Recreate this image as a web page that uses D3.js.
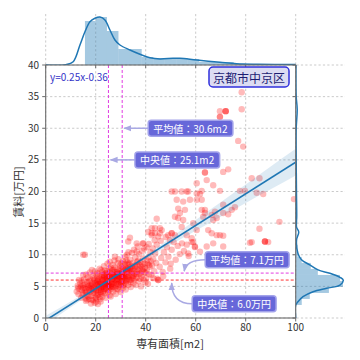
<!DOCTYPE html>
<html><head><meta charset="utf-8">
<script src="https://cdn.jsdelivr.net/npm/d3@7"></script>
<style>
body{margin:0;background:#fff}
svg{display:block}
text{font-family:"Noto Sans CJK JP","DejaVu Sans",sans-serif}
</style>
</head><body>
<svg id="c" width="360" height="360"></svg>
<script>
// ---------------- data ----------------
const xTicks = [0, 20, 40, 60, 80, 100];
const yTicks = [0, 5, 10, 15, 20, 25, 30, 35, 40];
const areaLabel = "専有面積[m2]";
const rentLabel = "賃料[万円]";
const districtName = "京都市中京区";
const slope = 0.25, intercept = -0.36;
const meanArea = 30.6, medianArea = 25.1, meanRent = 7.1, medianRent = 6.0;

// confidence band half-width of regression
const bandX = [0, 10, 20, 30, 40, 50, 60, 70, 80, 90, 100];
const bandHalf = [0.7, 0.45, 0.25, 0.18, 0.3, 0.55, 0.85, 1.15, 1.45, 1.8, 2.1];

// top marginal histogram (area)
const areaBinEdges = [15.7,20.0,24.5,29.1,33.7,38.4,43.0,47.6,52.2,56.8,61.4,66.0,70.6,75.2,79.8,84.4,89.0,93.6,98.2];
const areaBinCounts = [176,192,136,64,64,32,28,24,28,24,12,12,12,6,4,4,3,2];
// top KDE [area, density-as-count]
const areaKde = [[0,0],[8,1],[11,13],[13.7,80],[15.7,133],[17.7,173],[19.7,187],[21.7,192],[23.7,180],[25.7,140],[27.7,100],[29.7,80],[33.7,60],[37.7,43],[41.7,29],[45.7,24],[50.9,27],[53.7,27],[60.4,20],[69.7,11],[76.4,5],[85,3],[100,2]];

// right marginal histogram (rent)
const rentBinStart = 2.06, rentBinWidth = 0.95;
const rentBinCounts = [24,56,132,188,176,88,60,24,8,8,6,4,4,6,4,4,3,3,2,3,2,1,1,1,1,1,1,0,1,1,1,0,1,1,0,1];
// right KDE [rent, density-as-count]
const rentKde = [[0,0],[2.06,0],[2.58,9],[3.37,29],[4.16,69],[4.7,123],[5.2,176],[6.0,189],[6.43,176],[7.07,136],[7.6,89],[8.4,56],[9.2,23],[10.2,9],[12.3,3],[13.6,12],[14.4,3],[16,4],[20,3],[25,2],[30,2],[33,6],[35,2],[40,1]];

// listings [area m2, rent 万円]
const listings = [
[12.4,4.2],[12.8,5.1],[13.1,3.8],[13.5,4.6],[13.8,5.5],[13.3,6.0],[12.9,4.8],
[14.2,3.2],[14.5,4.4],[14.8,5.2],[15.1,3.9],[15.3,6.1],[15.6,4.8],[14.4,5.9],[15.9,3.1],[15.0,6.8],[14.7,3.7],
[16.1,2.7],[16.3,4.0],[16.5,5.3],[16.8,6.4],[17.0,3.4],[17.2,4.7],[17.5,5.8],[17.7,7.2],[16.6,2.9],[17.9,4.2],[16.9,5.0],[17.4,3.0],[16.2,6.9],[17.8,6.1],
[18.1,2.3],[18.3,3.5],[18.4,4.6],[18.6,5.5],[18.8,6.6],[19.0,2.8],[19.2,4.0],[19.4,5.0],[19.5,6.0],[19.7,7.4],[19.9,3.3],[18.5,7.6],[19.1,4.4],[19.8,5.6],[18.2,5.1],[19.6,2.4],
[20.1,3.1],[20.2,4.3],[20.4,5.2],[20.5,6.2],[20.7,7.1],[20.9,2.2],[21.0,3.7],[21.2,4.8],[21.3,5.7],[21.5,6.6],[21.6,7.8],[21.8,3.0],[21.9,4.1],[20.6,5.8],[21.4,5.0],[20.3,6.9],[21.7,5.4],[20.8,4.0],
[22.0,2.6],[22.1,4.5],[22.3,5.5],[22.4,6.4],[22.6,7.3],[22.7,3.4],[22.9,4.9],[23.0,5.9],[23.2,6.8],[23.3,8.2],[23.5,3.9],[23.6,5.2],[23.8,6.1],[23.9,7.0],[22.5,5.0],[23.1,4.3],[23.7,5.6],[22.8,6.0],[22.2,7.6],[23.4,6.5],
[24.0,3.2],[24.1,4.7],[24.3,5.6],[24.4,6.5],[24.6,7.4],[24.7,8.6],[24.9,4.1],[25.0,5.1],[25.2,6.0],[25.3,6.9],[25.5,7.8],[25.6,3.6],[25.8,4.9],[25.9,5.8],[24.5,6.2],[25.1,5.5],[25.7,6.6],[24.8,5.3],[25.4,4.4],[24.2,7.1],[25.6,8.9],
[26.0,3.4],[26.2,4.6],[26.3,5.7],[26.5,6.6],[26.6,7.5],[26.8,8.4],[27.0,4.2],[27.1,5.3],[27.3,6.2],[27.4,7.0],[27.6,8.0],[27.8,4.8],[27.9,5.9],[26.4,6.1],[27.2,6.7],[26.9,5.0],[27.7,6.5],[26.1,7.9],[27.5,9.1],
[28.0,3.8],[28.2,5.1],[28.3,6.0],[28.5,6.9],[28.7,7.7],[28.9,8.7],[29.0,4.5],[29.2,5.6],[29.3,6.5],[29.5,7.4],[29.7,8.3],[29.9,5.2],[28.6,6.4],[29.4,6.0],[28.4,7.3],[29.8,7.0],[28.8,5.4],[29.1,9.3],
[30.0,4.1],[30.2,5.4],[30.4,6.3],[30.5,7.2],[30.7,8.1],[30.9,9.0],[31.0,4.8],[31.2,5.9],[31.4,6.8],[31.5,7.6],[31.7,8.6],[31.9,5.5],[30.6,6.7],[31.3,7.1],[30.3,8.6],[31.8,9.7],[30.8,5.1],[31.6,6.3],
[32.0,4.5],[32.2,5.8],[32.4,6.6],[32.6,7.5],[32.8,8.4],[33.0,5.2],[33.2,6.2],[33.4,7.1],[33.6,8.0],[33.8,9.2],[32.5,10.0],[33.5,6.7],[32.9,7.8],[32.3,9.1],[33.9,5.7],[33.1,10.4],
[34.0,4.9],[34.2,6.0],[34.4,7.0],[34.6,7.8],[34.8,8.7],[35.0,5.5],[35.2,6.6],[35.4,7.4],[35.6,8.3],[35.8,9.6],[34.5,10.3],[35.3,10.8],[34.9,6.3],[35.7,7.0],
[36.0,5.2],[36.3,6.4],[36.5,7.3],[36.7,8.2],[37.0,9.1],[37.2,5.8],[37.4,6.9],[37.6,7.8],[37.9,8.8],[36.4,10.5],[37.3,10.1],[36.8,11.3],[37.8,6.2],
[38.1,5.0],[38.3,6.6],[38.5,7.5],[38.8,8.5],[39.0,9.4],[39.2,6.1],[39.5,7.2],[39.7,8.0],[38.6,10.6],[39.4,11.0],[39.9,5.6],[38.9,11.8],
[40.2,6.3],[40.5,7.6],[40.8,8.6],[41.1,9.6],[41.3,6.9],[41.6,8.1],[41.9,10.4],[40.4,11.2],[41.2,11.7],[40.9,5.4],
[42.3,6.8],[42.6,8.3],[43.0,9.3],[43.4,7.4],[43.8,10.2],[44.2,8.7],[44.6,6.2],[45.0,6.0],[45.0,6.0],[43.1,6.3],[42.8,11.0],[44.4,11.6],[43.6,12.3],
[45.6,8.1],[46.2,9.5],[46.8,7.3],[47.3,10.4],[47.9,8.8],[48.5,11.2],[49.1,9.7],[49.8,7.8],[50.4,10.8],[51.2,12.0],[52.0,9.2],[52.8,11.4],[53.6,10.1],[54.5,11.8],[55.3,10.6],[56.4,11.6],[57.2,9.8],[58.4,12.0],[59.0,12.0],[46.0,12.2],[48.0,12.8],[47.0,6.6],[50.0,8.6],
[17.3,4.4],[17.6,5.2],[18.0,4.8],[18.7,3.9],[18.9,5.3],[19.3,6.3],[19.5,4.7],[20.0,5.5],[20.3,4.6],[20.6,3.6],[20.9,6.0],[21.1,5.3],[21.3,4.4],[21.6,6.2],[21.9,5.6],[22.1,3.9],[22.3,4.8],[22.5,6.8],[22.7,5.3],[22.9,4.1],
[23.1,6.3],[23.3,5.0],[23.5,4.6],[23.7,7.5],[23.9,5.4],[24.1,6.0],[24.3,4.5],[24.5,5.5],[24.7,6.8],[24.9,5.9],[25.1,4.8],[25.3,6.4],[25.5,5.2],[25.7,7.2],[25.9,6.3],[26.1,5.1],[26.3,6.9],[26.5,5.4],[26.7,4.9],[26.9,6.3],
[27.1,7.6],[27.3,5.6],[27.5,6.0],[27.7,7.3],[27.9,6.8],[28.1,5.6],[28.3,6.6],[28.5,4.6],[28.7,6.2],[28.9,7.1],[29.1,6.8],[29.3,5.0],[29.5,6.3],[29.7,5.8],[29.9,7.8],[30.1,6.0],[30.3,7.0],[30.5,5.7],[30.7,6.5],[30.9,7.7],
[31.1,6.4],[31.3,5.3],[31.5,7.0],[31.7,6.0],[31.9,8.0],[32.1,6.9],[32.3,7.8],[32.5,6.1],[32.7,8.8],[32.9,6.5],[33.1,7.4],[33.3,8.6],[33.5,6.0],[33.7,7.6],[34.1,7.4],[34.3,8.2],[34.7,6.6],[35.1,7.9],[35.5,6.1],[35.9,8.1],
[36.2,7.0],[36.6,8.9],[37.1,7.5],[37.5,8.4],[38.0,7.1],[38.4,8.1],[39.1,7.7],[39.6,8.6],[40.0,7.2],[40.6,9.1],[41.4,8.4],[42.0,9.0],[16.0,4.5],[16.4,3.6],[16.7,5.7],[15.4,5.3],[15.8,4.2],[14.9,4.7],[14.1,5.0],[18.4,2.9],[20.2,2.6],[21.5,3.3],
[15.7,10.0],[15.0,10.0],[27.7,9.7],[33.7,12.7],[33.0,12.1],[36.4,11.8],[39.0,11.8],[41.0,13.6],[42.4,13.1],[42.4,13.4],[42.4,14.2],[45.7,13.4],[45.7,14.2],[45.0,12.9],[46.4,13.9],[49.0,13.1],[43.7,14.2],[43.7,13.4],[44.4,15.7],
[50.4,13.4],[50.4,13.4],[51.7,13.1],[49.7,12.3],[54.4,14.4],[51.7,16.0],[53.0,17.3],[53.7,16.6],[52.4,18.7],[51.7,20.0],[50.4,20.0],[54.4,20.0],[57.0,20.0],[55.0,18.4],[57.7,18.7],[55.7,17.1],[55.0,15.5],[53.0,15.8],[59.0,15.0],[60.4,13.9],
[56.4,13.1],[58.4,12.6],[59.7,11.3],[61.7,10.5],[64.4,11.3],[67.0,11.8],[57.0,10.2],[66.4,13.4],[68.4,13.1],[69.7,13.1],[71.0,13.0],[65.0,13.9],[67.0,15.5],[63.0,16.0],[63.7,16.6],[66.4,16.3],[68.4,15.8],[62.4,17.1],[63.7,17.1],[67.7,16.8],
[71.0,16.6],[73.0,16.4],[74.4,17.1],[75.7,17.5],[71.0,17.9],[60.4,19.7],[61.7,19.6],[62.4,18.7],[60.4,18.7],[62.4,20.1],[60.4,21.3],[63.7,23.0],[63.7,23.0],[64.4,21.8],[67.0,21.0],[69.7,20.1],[71.0,23.1],[73.0,23.5],[77.7,20.1],[79.7,20.1],
[84.4,19.8],[87.0,19.6],[82.4,22.1],[85.5,22.1],[77.0,28.0],[79.0,27.1],[69.7,31.8],[69.7,31.8],[72.0,32.7],[72.0,32.7],[72.0,32.7],[69.7,32.7],[78.4,33.0],[78.4,35.7],[93.5,15.2],[85.5,14.1],[87.7,12.1],[87.7,12.1],[87.7,12.1],[81.7,11.9],
[82.4,12.0],[89.0,12.0],[99.3,18.8],[71.0,11.3],[59.7,11.2],[56.4,20.0]
];

// ---------------- layout ----------------
const svg = d3.select("#c");
const L = 45.7, R = 295.7, T = 65, B = 318;
const x = d3.scaleLinear([0, 100], [L, R]);
const y = d3.scaleLinear([0, 40], [B, T]);
const yTop = d3.scaleLinear([0, 204], [T, 14]);
const xRight = d3.scaleLinear([0, 196], [R, 345]);
const blue = "#1f77b4";
const gridCol = "#bdbdbd";

const defs = svg.append("defs");
defs.append("clipPath").attr("id", "clipMain").append("rect").attr("x", L).attr("y", T).attr("width", R - L).attr("height", B - T);
defs.append("clipPath").attr("id", "clipTop").append("rect").attr("x", L).attr("y", 10).attr("width", R - L).attr("height", T - 10);
defs.append("clipPath").attr("id", "clipRight").append("rect").attr("x", R).attr("y", T).attr("width", 60).attr("height", B - T);
defs.append("marker").attr("id", "ah").attr("viewBox", "0 0 10 10").attr("refX", 9).attr("refY", 5)
  .attr("markerWidth", 8).attr("markerHeight", 8).attr("markerUnits", "userSpaceOnUse").attr("orient", "auto")
  .append("path").attr("d", "M0,1 L10,5 L0,9 Z").attr("fill", "#a9a9e3");

// ---- grids ----
const grid = svg.append("g").attr("stroke", gridCol).attr("stroke-width", 0.8).attr("stroke-dasharray", "2.2,2.2");
grid.selectAll(".gx").data(xTicks).join("line").attr("x1", d => x(d)).attr("x2", d => x(d)).attr("y1", 14).attr("y2", B);
grid.selectAll(".gy").data(yTicks).join("line").attr("y1", d => y(d)).attr("y2", d => y(d)).attr("x1", L).attr("x2", 345);

// ---- top marginal ----
const topG = svg.append("g").attr("clip-path", "url(#clipTop)");
topG.selectAll("rect").data(areaBinCounts).join("rect")
  .attr("x", (d, i) => x(areaBinEdges[i])).attr("width", (d, i) => x(areaBinEdges[i + 1]) - x(areaBinEdges[i]))
  .attr("y", d => yTop(d)).attr("height", d => T - yTop(d))
  .attr("fill", blue).attr("fill-opacity", 0.4);
topG.append("path").datum(areaKde).attr("fill", "none").attr("stroke", blue).attr("stroke-width", 1.5)
  .attr("d", d3.line().x(d => x(d[0])).y(d => yTop(d[1])).curve(d3.curveCatmullRom));

// ---- right marginal ----
const rG = svg.append("g").attr("clip-path", "url(#clipRight)");
rG.selectAll("rect").data(rentBinCounts).join("rect")
  .attr("x", R).attr("width", d => xRight(d) - R)
  .attr("y", (d, i) => y(rentBinStart + (i + 1) * rentBinWidth))
  .attr("height", (d, i) => y(rentBinStart + i * rentBinWidth) - y(rentBinStart + (i + 1) * rentBinWidth))
  .attr("fill", blue).attr("fill-opacity", 0.4);
rG.append("path").datum(rentKde).attr("fill", "none").attr("stroke", blue).attr("stroke-width", 1.5)
  .attr("d", d3.line().x(d => xRight(d[1])).y(d => y(d[0])).curve(d3.curveCatmullRom));

// ---- main plot ----
const main = svg.append("g").attr("clip-path", "url(#clipMain)");
main.selectAll("circle").data(listings).join("circle")
  .attr("cx", d => x(d[0])).attr("cy", d => y(d[1])).attr("r", 3.2)
  .attr("fill", "#ff0000").attr("fill-opacity", 0.27);

const band = bandX.map((bx, i) => [bx, slope * bx + intercept, bandHalf[i]]);
main.append("path").datum(band).attr("fill", blue).attr("fill-opacity", 0.15)
  .attr("d", d3.area().x(d => x(d[0])).y0(d => y(d[1] - d[2])).y1(d => y(d[1] + d[2])).curve(d3.curveMonotoneX));
main.append("line").attr("x1", x(0)).attr("y1", y(intercept)).attr("x2", x(100)).attr("y2", y(slope * 100 + intercept))
  .attr("stroke", blue).attr("stroke-width", 1.6);

// reference lines
const refs = svg.append("g").attr("stroke-width", 1).attr("stroke-dasharray", "3,2");
[medianArea, meanArea].forEach(v => refs.append("line").attr("x1", x(v)).attr("x2", x(v)).attr("y1", T).attr("y2", B).attr("stroke", "#e23ce2"));
refs.append("line").attr("x1", L).attr("x2", R).attr("y1", y(meanRent)).attr("y2", y(meanRent)).attr("stroke", "#e23ce2");
refs.append("line").attr("x1", L).attr("x2", R).attr("y1", y(medianRent)).attr("y2", y(medianRent)).attr("stroke", "#ff3030");

// ---- spines & ticks ----
const ax = svg.append("g").attr("stroke", "#6b6b6b").attr("fill", "none");
ax.append("rect").attr("x", L).attr("y", T).attr("width", R - L).attr("height", B - T).attr("stroke-width", 1.1);
ax.selectAll(".tb").data(xTicks).join("line").attr("x1", d => x(d)).attr("x2", d => x(d)).attr("y1", B).attr("y2", B + 3.5);
ax.selectAll(".tt").data(xTicks).join("line").attr("x1", d => x(d)).attr("x2", d => x(d)).attr("y1", T).attr("y2", T + 3);
ax.selectAll(".tl").data(yTicks).join("line").attr("y1", d => y(d)).attr("y2", d => y(d)).attr("x1", L - 3.5).attr("x2", L);
ax.selectAll(".tr").data(yTicks).join("line").attr("y1", d => y(d)).attr("y2", d => y(d)).attr("x1", R - 3).attr("x2", R);

const lab = svg.append("g").attr("fill", "#333").attr("font-size", 10);
lab.selectAll(".xl").data(xTicks).join("text").attr("x", d => x(d)).attr("y", 331).attr("text-anchor", "middle").text(d => d);
lab.selectAll(".yl").data(yTicks).join("text").attr("x", 39).attr("y", d => y(d)).attr("dy", "0.35em").attr("text-anchor", "end").text(d => d);

svg.append("text").attr("x", 170).attr("y", 348).attr("text-anchor", "middle").attr("font-size", 11).attr("fill", "#333").text(areaLabel);
svg.append("text").attr("transform", "translate(17.5,192) rotate(-90)").attr("text-anchor", "middle").attr("dominant-baseline", "central")
  .attr("font-size", 11).attr("fill", "#333").text(rentLabel);

// regression equation
svg.append("text").attr("x", 50).attr("y", 81).attr("font-size", 10).attr("fill", "#3636c8")
  .text(`y=${slope}x${intercept < 0 ? "-" : "+"}${Math.abs(intercept)}`);

// district label
const dg = svg.append("g");
const dt = dg.append("text").attr("x", 249).attr("y", 77).attr("text-anchor", "middle").attr("dominant-baseline", "central")
  .attr("font-size", 12).attr("fill", "#1c1c72").text(districtName);
const db = dt.node().getBBox();
dg.insert("rect", "text").attr("x", db.x - 4).attr("y", 67).attr("width", db.width + 8).attr("height", 20)
  .attr("rx", 4).attr("fill", "#dcdcf2").attr("stroke", "#3030dc").attr("stroke-width", 1.5);

// annotations
const notes = [
  { text: `平均値：${meanArea}m2`, tip: [meanArea, 30], box: [41, 30], curve: null },
  { text: `中央値：${medianArea}m2`, tip: [medianArea, 25], box: [35.7, 25], curve: null },
  { text: `平均値：${meanRent.toFixed(1)}万円`, tip: [55, 7.1], box: [63.8, 9.2], curve: "a" },
  { text: `中央値：${medianRent.toFixed(1)}万円`, tip: [50, 6.0], box: [58.6, 2.25], curve: "b" }
];
const ag = svg.append("g");
notes.forEach(n => {
  const bx = x(n.box[0]), by = y(n.box[1]);
  const tx = x(n.tip[0]), ty = y(n.tip[1]);
  let d;
  if (!n.curve) d = `M${bx},${by} L${tx + 2},${ty}`;
  else if (n.curve === "a") d = `M${bx},${by} Q${tx + 3},${by} ${tx + 1},${ty - 2}`;
  else d = `M${bx},${by} Q${tx + 1},${by} ${tx + 1},${ty + 3}`;
  ag.append("path").attr("d", d).attr("fill", "none").attr("stroke", "#a9a9e3").attr("stroke-width", 1.5).attr("marker-end", "url(#ah)");
  const g = ag.append("g");
  const t = g.append("text").attr("x", bx + 5).attr("y", by).attr("dominant-baseline", "central")
    .attr("font-size", 10).attr("fill", "#fff").text(n.text);
  const bb = t.node().getBBox();
  g.insert("rect", "text").attr("x", bx).attr("y", by - 8).attr("width", bb.width + 10).attr("height", 16)
    .attr("rx", 3).attr("fill", "#6767d9").attr("stroke", "#a3a3ea").attr("stroke-width", 1.5);
});
</script>
</body></html>
